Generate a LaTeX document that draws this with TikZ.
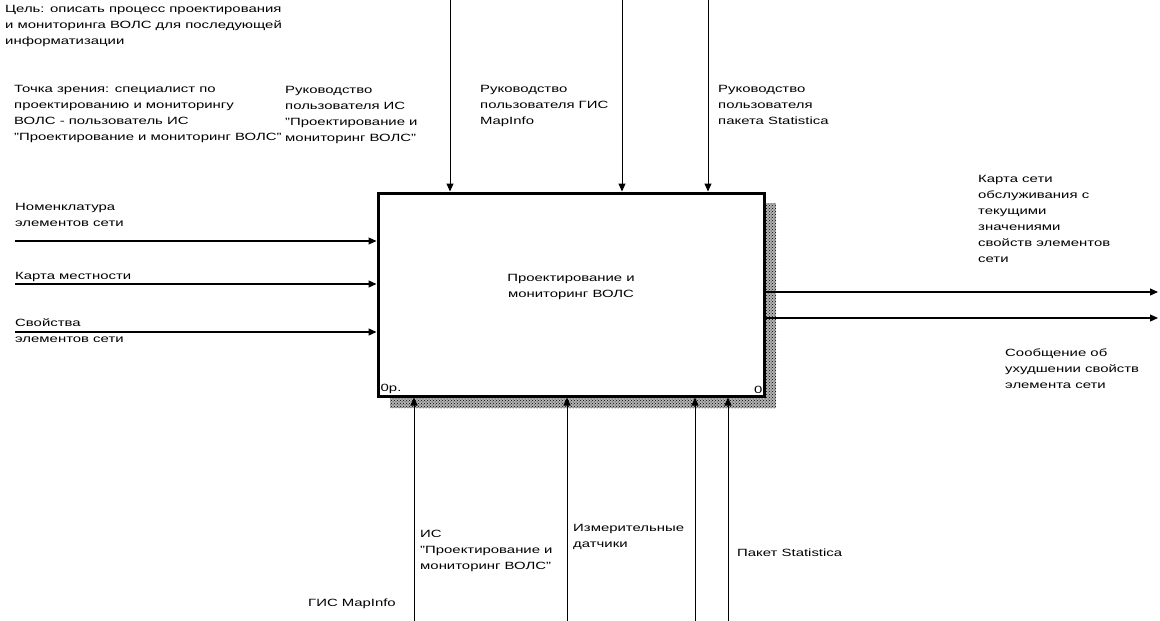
\documentclass[tikz,border=0pt]{standalone}
\usepackage{fontspec}
\setmainfont{Liberation Sans}[FakeStretch=1.42]
\usepackage{tikz}
\usetikzlibrary{arrows.meta,positioning,patterns}
\newcommand{\lblfont}{\fontsize{10.5}{16}\selectfont}
\tikzset{
  procbox/.style={draw=black, line width=3pt, fill=white,
    minimum width=386pt, minimum height=203pt, inner sep=0pt},
  lbl/.style={anchor=north west, inner sep=0pt, align=left, font=\lblfont},
  flow/.style={-{Triangle[length=8pt,width=7pt]}, line width=1.2pt},
  ctrl/.style={-{Triangle[length=8pt,width=7pt]}, line width=1pt},
  shadowfill/.style={preaction={fill=black!30}, pattern=crosshatch dots, pattern color=black, draw=none}
}

\begin{document}
\begin{tikzpicture}[x=1pt,y=-1pt]
\useasboundingbox (0,0) rectangle (1160,621);
\fill[white] (0,0) rectangle (1160,621);

% activity box with its shadow
\path[shadowfill] (390,203) rectangle (776,408);
\node[procbox] (proc) at (571,294.5) {};
\node[font=\lblfont, align=center] (proctitle) at (571,287) {Проектирование и\\мониторинг ВОЛС};
\node[lbl, anchor=south west] (nodenum) at ([xshift=4pt,yshift=4pt]proc.south west) {0р.};
\node[lbl, anchor=south east] (boxnum) at ([xshift=-3pt,yshift=4pt]proc.south east) {0};

% purpose and viewpoint
\node[lbl] (goal) at (5,5) {Цель: описать процесс проектирования\\и мониторинга ВОЛС для последующей\\информатизации};
\node[lbl] (view) at (14,85) {Точка зрения: специалист по\\проектированию и мониторингу\\ВОЛС - пользователь ИС\\"Проектирование и мониторинг ВОЛС"};

% controls
\coordinate (ct1) at (450,0);
\coordinate (ct2) at (622,0);
\coordinate (ct3) at (708,0);
\draw[ctrl] (ct1) -- (ct1 |- proc.north);
\draw[ctrl] (ct2) -- (ct2 |- proc.north);
\draw[ctrl] (ct3) -- (ct3 |- proc.north);
\node[lbl] (ctlbl1) at (285,86) {Руководство\\пользователя ИС\\"Проектирование и\\мониторинг ВОЛС"};
\node[lbl] (ctlbl2) at (480,85) {Руководство\\пользователя ГИС\\MapInfo};
\node[lbl] (ctlbl3) at (718,85) {Руководство\\пользователя\\пакета Statistica};

% inputs
\coordinate (in1) at (15,241);
\coordinate (in2) at (15,284);
\coordinate (in3) at (15,332);
\draw[flow] (in1) -- (in1 -| proc.west);
\draw[flow] (in2) -- (in2 -| proc.west);
\draw[flow] (in3) -- (in3 -| proc.west);
\node[lbl] (inlbl1) at (15,203) {Номенклатура\\элементов сети};
\node[lbl] (inlbl2) at (15,272) {Карта местности};
\node[lbl] (inlbl3) at (15,319) {Свойства\\элементов сети};

% outputs
\coordinate (out1) at (1158,292);
\coordinate (out2) at (1158,318);
\draw[flow] (out1 -| proc.east) -- (out1);
\draw[flow] (out2 -| proc.east) -- (out2);
\node[lbl] (outlbl1) at (978,175) {Карта сети\\обслуживания с\\текущими\\значениями\\свойств элементов\\сети};
\node[lbl] (outlbl2) at (1005,349) {Сообщение об\\ухудшении свойств\\элемента сети};

% mechanisms
\coordinate (mc1) at (414,621);
\coordinate (mc2) at (567,621);
\coordinate (mc3) at (695,621);
\coordinate (mc4) at (728,621);
\draw[ctrl] (mc1) -- (mc1 |- proc.south);
\draw[ctrl] (mc2) -- (mc2 |- proc.south);
\draw[ctrl] (mc3) -- (mc3 |- proc.south);
\draw[ctrl] (mc4) -- (mc4 |- proc.south);
\node[lbl] (mclbl1) at (308,599) {ГИС MapInfo};
\node[lbl] (mclbl2) at (420,530) {ИС\\"Проектирование и\\мониторинг ВОЛС"};
\node[lbl] (mclbl3) at (573,524) {Измерительные\\датчики};
\node[lbl] (mclbl4) at (737,549) {Пакет Statistica};
\end{tikzpicture}
\end{document}
